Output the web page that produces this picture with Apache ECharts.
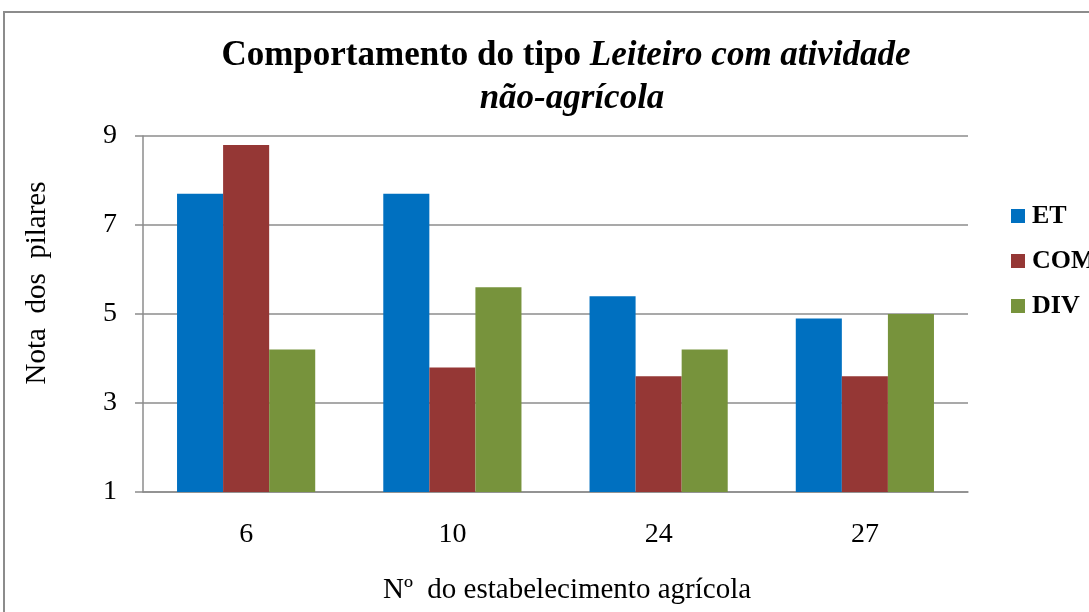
<!DOCTYPE html>
<html>
<head>
<meta charset="utf-8">
<script src="https://cdn.jsdelivr.net/npm/echarts@6/dist/echarts.min.js"></script>
<style>
html, body { margin: 0; padding: 0; background: #fff; }
#main { width: 1089px; height: 612px; }
</style>
</head>
<body>
<div id="main"></div>
<script>
var categories = ['6', '10', '24', '27'];
var seriesNames = ['ET', 'COM', 'DIV'];
var valuesET = [7.7, 7.7, 5.4, 4.9];
var valuesCOM = [8.8, 3.8, 3.6, 3.6];
var valuesDIV = [4.2, 5.6, 4.2, 5.0];
var colors = ['#0070C0', '#953735', '#77933C'];

var font = 'Liberation Serif';
var gridColor = '#8c8c8c';

var chartDom = document.getElementById('main');
var myChart = echarts.init(chartDom);

var option = {
    animation: false,
    color: colors,
    title: [
        {
            text: '{b|Comportamento do tipo }{bi|Leiteiro com atividade}',
            left: 561,
            top: 33,
            textAlign: 'center',
            textStyle: {
                rich: {
                    b: { fontFamily: font, fontSize: 35, fontWeight: 'bold', color: '#000' },
                    bi: { fontFamily: font, fontSize: 35, fontWeight: 'bold', fontStyle: 'italic', color: '#000' }
                }
            }
        },
        {
            text: 'não-agrícola',
            left: 567,
            top: 76,
            textAlign: 'center',
            textStyle: { fontFamily: font, fontSize: 35, fontWeight: 'bold', fontStyle: 'italic', color: '#000' }
        }
    ],
    legend: {
        orient: 'vertical',
        left: 1006,
        top: 198,
        itemWidth: 14,
        itemHeight: 14,
        itemGap: 19,
        icon: 'rect',
        data: seriesNames,
        textStyle: { fontFamily: font, fontSize: 26, fontWeight: 'bold', color: '#000', lineHeight: 26, padding: [0, 0, 0, 2] }
    },
    grid: { left: 143, right: 121, top: 136, bottom: 120 },
    xAxis: {
        type: 'category',
        data: categories,
        axisLine: { lineStyle: { color: gridColor, width: 1.5 } },
        axisTick: { show: false },
        axisLabel: { fontFamily: font, fontSize: 28, color: '#000', margin: 29 }
    },
    yAxis: {
        type: 'value',
        min: 1,
        max: 9,
        interval: 2,
        axisLine: { show: true, lineStyle: { color: gridColor, width: 1.5 } },
        axisTick: { show: true, length: 8, lineStyle: { color: gridColor, width: 1.5 } },
        axisLabel: { fontFamily: font, fontSize: 28, color: '#000', margin: 26 },
        splitLine: { lineStyle: { color: gridColor, width: 1.5 } }
    },
    graphic: [
        {
            type: 'rect',
            shape: { x: 4, y: 12, width: 1100, height: 620 },
            style: { fill: 'none', stroke: '#8c8c8c', lineWidth: 2 },
            silent: true
        },
        {
            type: 'text',
            x: 37,
            y: 283,
            rotation: Math.PI / 2,
            style: { text: 'Nota  dos  pilares', fontFamily: font, fontSize: 29, fill: '#000', align: 'center', verticalAlign: 'middle' }
        },
        {
            type: 'text',
            x: 567,
            y: 590,
            style: { text: 'Nº  do estabelecimento agrícola', fontFamily: font, fontSize: 29, fill: '#000', align: 'center', verticalAlign: 'middle' }
        }
    ],
    series: [
        { name: seriesNames[0], type: 'bar', data: valuesET, barGap: 0, barCategoryGap: '33%' },
        { name: seriesNames[1], type: 'bar', data: valuesCOM, barGap: 0, barCategoryGap: '33%' },
        { name: seriesNames[2], type: 'bar', data: valuesDIV, barGap: 0, barCategoryGap: '33%' }
    ]
};

myChart.setOption(option);
</script>
</body>
</html>
